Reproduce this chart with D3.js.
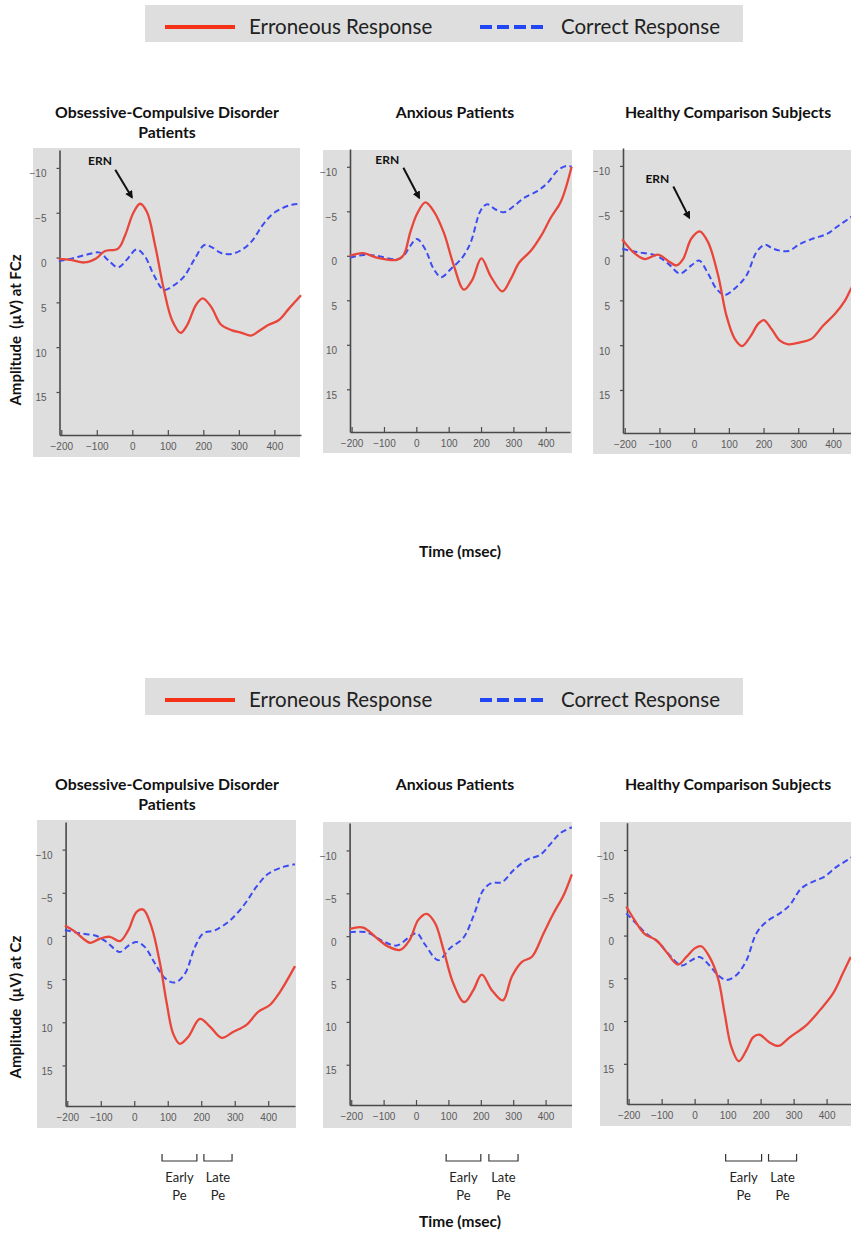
<!DOCTYPE html>
<html>
<head>
<title>ERN / Pe waveforms</title>
<style>
  body, html { margin: 0; padding: 0; background: #fff; }
  text { font-family: Lato, "Open Sans", sans-serif; }
</style>
</head>
<body>
<svg id="svg" width="851" height="1234"></svg>
<script src="https://d3js.org/d3.v7.min.js"></script>
<script>
// Waveforms: [time in ms, amplitude in µV]  (negative is up)

// FCz – Obsessive-Compulsive Disorder patients
const ocdFczError = [[-207,0.15],[-173,0.26],[-135,0.55],[-102,0.1],[-78,-0.7],[-40,-1.0],[-21,-2.4],[3,-5.0],[22,-6.0],[41,-5.1],[65,-1.2],[89,3.6],[112,7.0],[136,8.4],[155,7.5],[179,5.3],[198,4.55],[222,5.5],[250,7.5],[279,8.1],[308,8.4],[334,8.7],[360,8.1],[384,7.5],[412,7.0],[441,5.7],[475,4.2]];
const ocdFczCorrect = [[-207,0.4],[-169,0.1],[-130,-0.3],[-92,-0.55],[-69,0.26],[-40,1.1],[-16,0.26],[12,-0.9],[36,-0.1],[60,1.9],[89,3.6],[117,3.1],[146,2.1],[174,0.26],[203,-1.4],[222,-1.2],[250,-0.5],[279,-0.4],[308,-0.86],[336,-1.8],[365,-3.5],[393,-4.8],[422,-5.5],[450,-5.9],[475,-6.0]];

// FCz – Anxious patients
const anxFczError = [[-205,0],[-164,-0.3],[-122,0.2],[-60,0.45],[-39,-0.1],[-19,-2.6],[2,-4.7],[28,-6.0],[54,-5.0],[85,-2.6],[116,1.1],[147,3.8],[173,2.7],[201,0.3],[230,2.3],[266,4.0],[292,2.6],[318,0.75],[354,-0.56],[385,-2.2],[416,-4.3],[447,-6.1],[480,-10.0]];
const anxFczCorrect = [[-205,0.2],[-164,-0.1],[-122,0],[-60,0.4],[-39,0],[-19,-1.1],[2,-1.9],[28,-0.7],[54,1.5],[77,2.4],[106,1.5],[142,0.2],[168,-1.5],[199,-5.1],[219,-5.8],[245,-5.2],[271,-4.9],[302,-5.6],[333,-6.5],[375,-7.3],[406,-8.2],[437,-9.6],[465,-10.1],[480,-10.0]];

// FCz – Healthy comparison subjects
const hcFczError = [[-207,-1.8],[-176,-0.4],[-142,0.4],[-104,-0.1],[-75,0.6],[-51,1.1],[-32,0.4],[-8,-1.9],[16,-2.7],[40,-1.5],[69,2.2],[93,6.7],[117,9.3],[138,10.1],[161,9.1],[185,7.6],[201,7.2],[223,8.2],[247,9.5],[271,9.9],[305,9.7],[338,9.3],[372,7.8],[406,6.5],[435,5.0],[452,3.7],[475,2.2]];
const hcFczCorrect = [[-207,-0.75],[-166,-0.4],[-109,0],[-75,0.9],[-41,2.0],[-8,1.1],[14,0.55],[40,2.0],[64,3.7],[88,4.4],[122,3.5],[151,2.2],[180,-0.4],[204,-1.2],[228,-0.75],[271,-0.5],[305,-1.3],[343,-1.9],[382,-2.4],[415,-3.3],[452,-4.3],[475,-5.0]];

// Cz – Obsessive-Compulsive Disorder patients
const ocdCzError = [[-207,-1.2],[-177,-0.5],[-132,0.8],[-102,0.3],[-73,0.1],[-43,0.6],[-18,-0.65],[7,-2.8],[27,-3.05],[52,-1.0],[77,3.2],[97,7.8],[116,11.3],[136,12.5],[161,11.7],[196,9.6],[226,10.5],[261,11.8],[296,11.1],[335,10.3],[370,8.8],[405,8.0],[435,6.5],[480,3.5]];
const ocdCzCorrect = [[-207,-0.7],[-162,-0.3],[-112,0],[-83,0.7],[-43,1.85],[-18,1.15],[7,0.7],[32,1.3],[62,3.2],[92,4.9],[121,5.4],[151,4.4],[181,1.3],[206,-0.3],[241,-0.65],[286,-1.8],[330,-3.7],[365,-5.7],[400,-7.2],[445,-8.0],[480,-8.3]];

// Cz – Anxious patients
const anxCzError = [[-204,-0.85],[-163,-1.0],[-122,0.2],[-86,1.2],[-49,1.6],[-19,0.4],[7,-1.9],[33,-2.6],[59,-1.5],[85,1.6],[115,5.5],[149,7.7],[177,6.3],[203,4.5],[234,6.3],[268,7.5],[296,4.7],[327,3.0],[358,2.4],[394,-0.35],[425,-2.7],[456,-4.8],[481,-7.2]];
const anxCzCorrect = [[-204,-0.45],[-153,-0.45],[-101,0.6],[-60,1.1],[-24,0.2],[2,-0.35],[28,1.0],[69,2.8],[105,1.4],[146,0.2],[177,-2.3],[208,-5.4],[234,-6.2],[265,-6.3],[301,-7.7],[342,-8.9],[384,-9.5],[414,-10.7],[445,-12.0],[481,-12.7]];

// Cz – Healthy comparison subjects
const hcCzError = [[-207,-3.4],[-182,-1.8],[-152,-0.2],[-116,0.55],[-86,1.9],[-51,3.4],[-25,2.5],[0,1.5],[20,1.25],[45,2.5],[71,5.0],[91,9.1],[111,13.0],[134,14.7],[157,13.4],[177,11.9],[197,11.6],[227,12.5],[255,12.9],[288,11.9],[338,10.5],[379,8.75],[419,6.8],[449,4.45],[473,2.5]];
const hcCzCorrect = [[-207,-2.6],[-177,-1.4],[-146,-0.2],[-111,0.75],[-76,2.3],[-40,3.5],[-10,2.9],[15,2.5],[45,3.5],[71,4.65],[96,5.2],[126,4.65],[157,2.9],[187,-0.25],[217,-1.6],[258,-2.6],[288,-3.55],[323,-5.5],[359,-6.3],[394,-6.9],[429,-8.0],[470,-9.0],[480,-9.3]];

// Axis ticks and labels
const xTicks = [-200, -100, 0, 100, 200, 300, 400];
const yTicks = [-10, -5, 0, 5, 10, 15];
const groupTitles = [['Obsessive-Compulsive Disorder', 'Patients'], ['Anxious Patients'], ['Healthy Comparison Subjects']];
const legendLabels = ['Erroneous Response', 'Correct Response'];
const rowYLabels = ['Amplitude  (\u00b5V) at FCz', 'Amplitude  (\u00b5V) at Cz'];
const xLabel = 'Time (msec)';

// ERN arrow on the FCz row: text position, arrow start, arrow tip (ms, µV)
const ernNotes = [
  { text: [-91, -10.8], from: [-48, -9.8], to: [-1, -6.7] },
  { text: [-90, -10.8], from: [-40, -9.9], to: [9, -6.5] },
  { text: [-106, -8.5], from: [-60, -7.7], to: [-14, -4.2] }
];
// Early / late Pe windows drawn under the Cz row (ms)
const earlyPe = [[83, 187], [93, 200], [94, 203]];
const latePe = [[208, 292], [225, 315], [224, 309]];

const RED = '#e8463b', BLUE = '#3d4cf2', BG = '#dedede', AXIS = '#4a4a4a';

const svg = d3.select('#svg');

// arrow head for the ERN notes
svg.append('defs').append('marker')
  .attr('id', 'head').attr('viewBox', '0 0 10 10')
  .attr('refX', 8).attr('refY', 5)
  .attr('markerWidth', 4).attr('markerHeight', 4)
  .attr('orient', 'auto')
  .append('path').attr('d', 'M0,0 L10,5 L0,10 z').attr('fill', '#111');

// layout of each panel on the page: grey box, x range of the axis, y range of the axis
const rows = [
  {
    titleY: 113, legendY: 5, timeY: 552, yLabelY: 330, xDomain: [-205, 475], yDomain: [-12, 19.8],
    curves: [[ocdFczError, ocdFczCorrect], [anxFczError, anxFczCorrect], [hcFczError, hcFczCorrect]],
    panels: [
      { bg: [33, 148, 300, 457], x: [59.5, 301], y: [150, 435], cx: 167 },
      { bg: [323, 150, 572, 453], x: [350, 570], y: [149, 432], cx: 455 },
      { bg: [593, 150, 880, 454], x: [623, 859], y: [148, 433], cx: 728 }
    ]
  },
  {
    titleY: 785, legendY: 678, timeY: 1222, yLabelY: 1007, xDomain: [-205, 480], yDomain: [-13.2, 19.7],
    curves: [[ocdCzError, ocdCzCorrect], [anxCzError, anxCzCorrect], [hcCzError, hcCzCorrect]],
    panels: [
      { bg: [37, 820, 296, 1128], x: [65.6, 295], y: [822, 1106], cx: 167 },
      { bg: [323, 822, 572, 1128], x: [349.6, 571.5], y: [823, 1105], cx: 455 },
      { bg: [600, 822, 880, 1126], x: [627, 853], y: [822.7, 1104], cx: 728 }
    ]
  }
];

rows.forEach((row, r) => {
  // legend
  const lg = svg.append('g').attr('transform', `translate(0,${row.legendY})`);
  lg.append('rect').attr('x', 145).attr('y', 0).attr('width', 598).attr('height', 37).attr('fill', BG);
  lg.append('line').attr('x1', 165).attr('x2', 235).attr('y1', 22).attr('y2', 22)
    .attr('stroke', '#f53218').attr('stroke-width', 4);
  lg.append('text').attr('x', 249).attr('y', 29).attr('font-size', 20.5).attr('fill', '#222').text(legendLabels[0]);
  lg.append('line').attr('x1', 480).attr('x2', 548).attr('y1', 22).attr('y2', 22)
    .attr('stroke', '#2147f5').attr('stroke-width', 4).attr('stroke-dasharray', '12,5');
  lg.append('text').attr('x', 561).attr('y', 29).attr('font-size', 20.5).attr('fill', '#222').text(legendLabels[1]);

  // y axis title for the row
  svg.append('text')
    .attr('transform', `translate(21,${row.yLabelY}) rotate(-90)`)
    .attr('text-anchor', 'middle').attr('font-weight', 'bold').attr('font-size', 15)
    .style('white-space', 'pre').attr('fill', '#111')
    .text(rowYLabels[r]);

  // x axis title for the row
  svg.append('text').attr('x', 460).attr('y', row.timeY + 5)
    .attr('text-anchor', 'middle').attr('font-weight', 'bold').attr('font-size', 15.5).attr('fill', '#111')
    .text(xLabel);

  row.panels.forEach((p, i) => {
    const g = svg.append('g');
    // title
    groupTitles[i].forEach((t, k) => {
      g.append('text').attr('x', p.cx).attr('y', row.titleY + 5 + k * 20)
        .attr('text-anchor', 'middle').attr('font-weight', 'bold').attr('font-size', 15.8).attr('fill', '#111')
        .text(t);
    });

    g.append('rect')
      .attr('x', p.bg[0]).attr('y', p.bg[1])
      .attr('width', p.bg[2] - p.bg[0]).attr('height', p.bg[3] - p.bg[1])
      .attr('fill', BG);

    const x = d3.scaleLinear().domain(row.xDomain).range(p.x);
    const y = d3.scaleLinear().domain(row.yDomain).range(p.y);

    // x axis: ticks point up into the plot
    const xAxis = g.append('g').attr('transform', `translate(0,${p.y[1]})`)
      .call(d3.axisBottom(x).tickValues(xTicks).tickSize(-5).tickPadding(6).tickSizeOuter(0));
    // y axis: short ticks outward
    const yAxis = g.append('g').attr('transform', `translate(${p.x[0]},0)`)
      .call(d3.axisLeft(y).tickValues(yTicks).tickSize(3).tickPadding(10).tickSizeOuter(0));

    [xAxis, yAxis].forEach(ax => {
      ax.select('.domain').attr('stroke', AXIS).attr('stroke-width', 1.6);
      ax.selectAll('.tick line').attr('stroke', AXIS).attr('stroke-width', 1.2);
      ax.selectAll('.tick text').attr('fill', '#5a5a5a').attr('font-size', 10)
        .style('font-family', '"Liberation Sans", Arial, sans-serif');
    });
    xAxis.selectAll('.tick text').attr('dy', '0.9em');
    yAxis.selectAll('.tick text').attr('dy', '0.9em');

    const line = d3.line()
      .x(d => x(d[0])).y(d => y(d[1]))
      .curve(d3.curveCatmullRom.alpha(0.5));

    const [err, cor] = row.curves[i];
    g.append('path').datum(cor).attr('d', line)
      .attr('fill', 'none').attr('stroke', BLUE).attr('stroke-width', 2)
      .attr('stroke-dasharray', '6,3.5');
    g.append('path').datum(err).attr('d', line)
      .attr('fill', 'none').attr('stroke', RED).attr('stroke-width', 2.3);

    if (r === 0) {
      const n = ernNotes[i];
      g.append('text').attr('x', x(n.text[0])).attr('y', y(n.text[1]) + 4)
        .attr('text-anchor', 'middle').attr('font-weight', 'bold').attr('font-size', 12).attr('fill', '#111')
        .text('ERN');
      g.append('line')
        .attr('x1', x(n.from[0])).attr('y1', y(n.from[1]))
        .attr('x2', x(n.to[0])).attr('y2', y(n.to[1]))
        .attr('stroke', '#111').attr('stroke-width', 2)
        .attr('marker-end', 'url(#head)');
    } else {
      // Pe brackets
      [[earlyPe[i], 'Early'], [latePe[i], 'Late']].forEach(([w, name]) => {
        const a = x(w[0]), b = x(w[1]);
        g.append('path')
          .attr('d', `M${a},1154 V1161 H${b} V1154`)
          .attr('fill', 'none').attr('stroke', '#333').attr('stroke-width', 1.2);
        g.append('text').attr('x', (a + b) / 2).attr('y', 1182)
          .attr('text-anchor', 'middle').attr('font-size', 13).attr('fill', '#222').text(name);
        g.append('text').attr('x', (a + b) / 2).attr('y', 1200)
          .attr('text-anchor', 'middle').attr('font-size', 13).attr('fill', '#222').text('Pe');
      });
    }
  });
});
</script>
</body>
</html>
